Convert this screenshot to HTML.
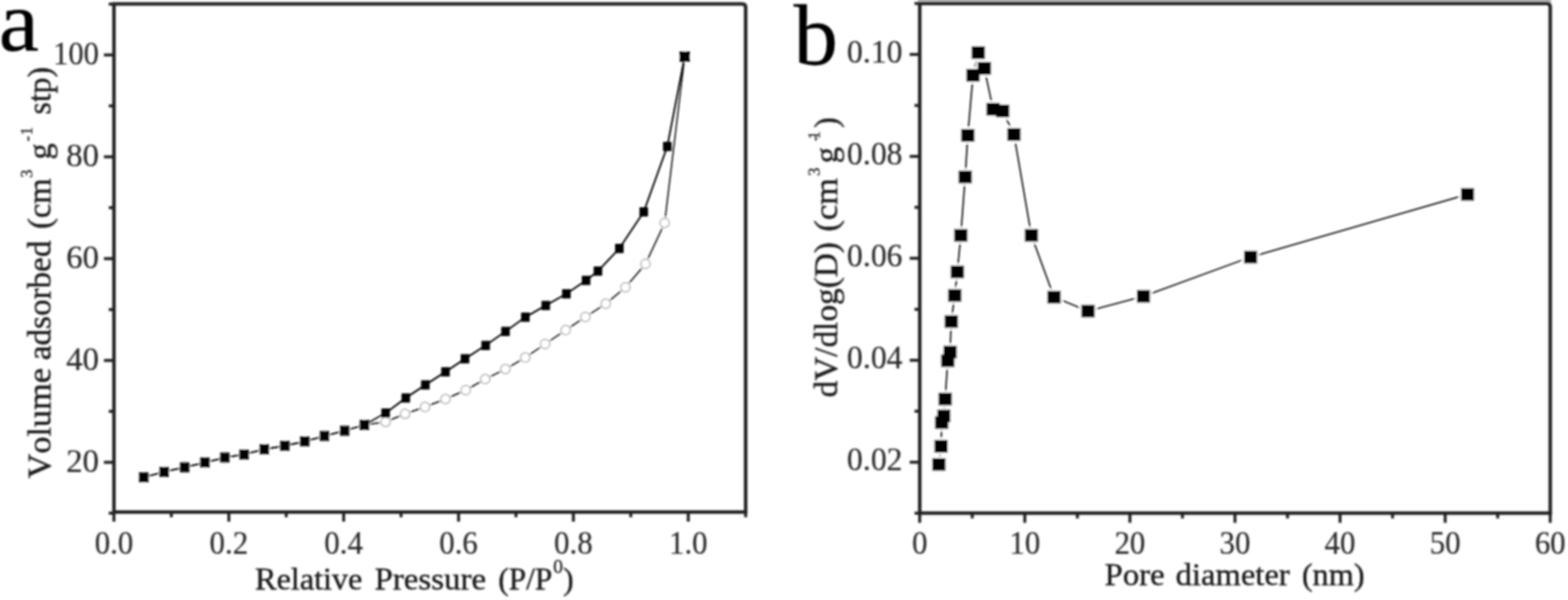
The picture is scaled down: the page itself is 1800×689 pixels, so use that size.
<!DOCTYPE html>
<html lang="en"><head><meta charset="utf-8"><title>Figure</title>
<style>
html,body{margin:0;padding:0;background:#fff;}
body{width:1800px;height:689px;overflow:hidden;}
svg{display:block;font-family:"Liberation Serif", serif;fill:#2a2a2a;font-kerning:none;}
</style></head><body>
<svg width="1800" height="689" viewBox="0 0 1800 689">
<defs><filter id="bl" x="-2%" y="-2%" width="104%" height="104%"><feGaussianBlur stdDeviation="0.8"/></filter></defs>
<rect width="1800" height="689" fill="#fff"/>
<g filter="url(#bl)">
<path d="M130.8,4.6 L852.0,4.6 Q856.0,4.6 856.0,8.6 L856.0,588.0 L130.8,588.0 Z" fill="none" stroke="#202020" stroke-width="4.0" stroke-linejoin="miter"/>
<line x1="130.8" y1="588.0" x2="130.8" y2="599.0" stroke="#202020" stroke-width="3.4"/>
<text transform="translate(130.8,636.0) scale(0.92,1)" font-size="38.5" text-anchor="middle" stroke="#2a2a2a" stroke-width="0.2" >0.0</text>
<line x1="196.7" y1="588.0" x2="196.7" y2="594.0" stroke="#202020" stroke-width="3.4"/>
<line x1="262.7" y1="588.0" x2="262.7" y2="599.0" stroke="#202020" stroke-width="3.4"/>
<text transform="translate(262.7,636.0) scale(0.92,1)" font-size="38.5" text-anchor="middle" stroke="#2a2a2a" stroke-width="0.2" >0.2</text>
<line x1="328.6" y1="588.0" x2="328.6" y2="594.0" stroke="#202020" stroke-width="3.4"/>
<line x1="394.5" y1="588.0" x2="394.5" y2="599.0" stroke="#202020" stroke-width="3.4"/>
<text transform="translate(394.5,636.0) scale(0.92,1)" font-size="38.5" text-anchor="middle" stroke="#2a2a2a" stroke-width="0.2" >0.4</text>
<line x1="460.4" y1="588.0" x2="460.4" y2="594.0" stroke="#202020" stroke-width="3.4"/>
<line x1="526.4" y1="588.0" x2="526.4" y2="599.0" stroke="#202020" stroke-width="3.4"/>
<text transform="translate(526.4,636.0) scale(0.92,1)" font-size="38.5" text-anchor="middle" stroke="#2a2a2a" stroke-width="0.2" >0.6</text>
<line x1="592.3" y1="588.0" x2="592.3" y2="594.0" stroke="#202020" stroke-width="3.4"/>
<line x1="658.2" y1="588.0" x2="658.2" y2="599.0" stroke="#202020" stroke-width="3.4"/>
<text transform="translate(658.2,636.0) scale(0.92,1)" font-size="38.5" text-anchor="middle" stroke="#2a2a2a" stroke-width="0.2" >0.8</text>
<line x1="724.1" y1="588.0" x2="724.1" y2="594.0" stroke="#202020" stroke-width="3.4"/>
<line x1="790.1" y1="588.0" x2="790.1" y2="599.0" stroke="#202020" stroke-width="3.4"/>
<text transform="translate(790.1,636.0) scale(0.92,1)" font-size="38.5" text-anchor="middle" stroke="#2a2a2a" stroke-width="0.2" >1.0</text>
<line x1="856.0" y1="588.0" x2="856.0" y2="594.0" stroke="#202020" stroke-width="3.4"/>
<line x1="130.8" y1="589.3" x2="124.80000000000001" y2="589.3" stroke="#202020" stroke-width="3.4"/>
<line x1="130.8" y1="530.9" x2="119.30000000000001" y2="530.9" stroke="#202020" stroke-width="3.4"/>
<text transform="translate(113.6,541.8) scale(0.98,1)" font-size="38.5" text-anchor="end" stroke="#2a2a2a" stroke-width="0.2" >20</text>
<line x1="130.8" y1="472.4" x2="124.80000000000001" y2="472.4" stroke="#202020" stroke-width="3.4"/>
<line x1="130.8" y1="413.9" x2="119.30000000000001" y2="413.9" stroke="#202020" stroke-width="3.4"/>
<text transform="translate(113.6,424.8) scale(0.98,1)" font-size="38.5" text-anchor="end" stroke="#2a2a2a" stroke-width="0.2" >40</text>
<line x1="130.8" y1="355.5" x2="124.80000000000001" y2="355.5" stroke="#202020" stroke-width="3.4"/>
<line x1="130.8" y1="297.0" x2="119.30000000000001" y2="297.0" stroke="#202020" stroke-width="3.4"/>
<text transform="translate(113.6,307.9) scale(0.98,1)" font-size="38.5" text-anchor="end" stroke="#2a2a2a" stroke-width="0.2" >60</text>
<line x1="130.8" y1="238.5" x2="124.80000000000001" y2="238.5" stroke="#202020" stroke-width="3.4"/>
<line x1="130.8" y1="180.1" x2="119.30000000000001" y2="180.1" stroke="#202020" stroke-width="3.4"/>
<text transform="translate(113.6,191.0) scale(0.98,1)" font-size="38.5" text-anchor="end" stroke="#2a2a2a" stroke-width="0.2" >80</text>
<line x1="130.8" y1="121.6" x2="124.80000000000001" y2="121.6" stroke="#202020" stroke-width="3.4"/>
<line x1="130.8" y1="63.1" x2="119.30000000000001" y2="63.1" stroke="#202020" stroke-width="3.4"/>
<text transform="translate(113.6,74.0) scale(0.91,1)" font-size="38.5" text-anchor="end" stroke="#2a2a2a" stroke-width="0.2" >100</text>
<line x1="130.8" y1="4.7" x2="124.80000000000001" y2="4.7" stroke="#202020" stroke-width="3.4"/>
<text transform="translate(0,677.3)" font-size="36.2" fill="#1c1c1c" stroke="#1c1c1c" stroke-width="0.45"><tspan x="292.8" y="0" textLength="123.2" lengthAdjust="spacingAndGlyphs">Relative</tspan><tspan> </tspan><tspan x="430.0" y="0" textLength="128.0" lengthAdjust="spacingAndGlyphs">Pressure</tspan><tspan> </tspan><tspan x="572.0" y="0" textLength="62.0" lengthAdjust="spacingAndGlyphs">(P/P</tspan><tspan x="635.0" y="-19.6" font-size="22.5" stroke-width="0.3">0</tspan><tspan x="646.5" y="0">)</tspan></text>
<text transform="translate(57.6,0) rotate(-90)" font-size="37.3" fill="#1c1c1c" stroke="#1c1c1c" stroke-width="0.45"><tspan x="-549.5" y="0" textLength="127.0" lengthAdjust="spacingAndGlyphs">Volume</tspan><tspan> </tspan><tspan x="-413.5" y="0" textLength="137.2" lengthAdjust="spacingAndGlyphs">adsorbed</tspan><tspan> </tspan><tspan x="-263.0" y="0" textLength="58.0" lengthAdjust="spacingAndGlyphs">(cm</tspan><tspan x="-204.3" y="-20.5" font-size="19" stroke-width="0.3">3</tspan><tspan> </tspan><tspan x="-183.3" y="0">g</tspan><tspan x="-162.5" y="-20.5" textLength="16.7" lengthAdjust="spacing" font-size="19" stroke-width="0.3">-1</tspan><tspan> </tspan><tspan x="-131.5" y="0" textLength="54.5" lengthAdjust="spacingAndGlyphs">stp)</tspan></text>
<text transform="translate(-1.5,58.0) scale(1.04,1)" font-size="100" text-anchor="start" stroke="#000" stroke-width="0.3" fill="#000">a</text>
<polyline fill="none" stroke="#000" stroke-width="1.6" points="165.0,548.2 188.4,541.8 212.0,536.6 235.2,531.2 258.1,525.4 280.2,521.8 303.4,515.9 327.0,511.9 349.9,506.9 372.4,500.7 395.7,494.6 418.3,488.0 442.7,474.3 465.8,457.0 488.3,442.0 511.4,427.0 533.8,412.0 557.5,396.7 580.3,380.6 603.1,364.2 626.5,350.8 650.2,337.4 672.8,322.0 686.4,311.3 711.0,285.3 739.0,243.3 766.0,168.2 786.0,65.0"/>
<polyline fill="none" stroke="#000" stroke-width="1.5" points="165.0,548.2 188.4,541.8 212.0,536.6 235.2,531.2 258.1,525.4 280.2,521.8 303.4,515.9 327.0,511.9 349.9,506.9 372.4,500.7 395.7,494.6 418.3,488.0 442.6,484.4 465.0,475.2 487.9,467.3 511.4,458.3 534.6,448.0 557.0,435.3 580.2,423.8 603.0,410.6 625.8,395.0 649.4,379.1 672.0,364.0 695.4,348.8 718.0,330.0 741.0,303.0 763.0,256.0 786.0,65.0"/>
<circle cx="165.0" cy="548.2" r="6.7" fill="#fff"/>
<circle cx="188.4" cy="541.8" r="6.7" fill="#fff"/>
<circle cx="212.0" cy="536.6" r="6.7" fill="#fff"/>
<circle cx="235.2" cy="531.2" r="6.7" fill="#fff"/>
<circle cx="258.1" cy="525.4" r="6.7" fill="#fff"/>
<circle cx="280.2" cy="521.8" r="6.7" fill="#fff"/>
<circle cx="303.4" cy="515.9" r="6.7" fill="#fff"/>
<circle cx="327.0" cy="511.9" r="6.7" fill="#fff"/>
<circle cx="349.9" cy="506.9" r="6.7" fill="#fff"/>
<circle cx="372.4" cy="500.7" r="6.7" fill="#fff"/>
<circle cx="395.7" cy="494.6" r="6.7" fill="#fff"/>
<circle cx="418.3" cy="488.0" r="6.7" fill="#fff"/>
<circle cx="442.6" cy="484.4" r="6.7" fill="#fff"/>
<circle cx="465.0" cy="475.2" r="6.7" fill="#fff"/>
<circle cx="487.9" cy="467.3" r="6.7" fill="#fff"/>
<circle cx="511.4" cy="458.3" r="6.7" fill="#fff"/>
<circle cx="534.6" cy="448.0" r="6.7" fill="#fff"/>
<circle cx="557.0" cy="435.3" r="6.7" fill="#fff"/>
<circle cx="580.2" cy="423.8" r="6.7" fill="#fff"/>
<circle cx="603.0" cy="410.6" r="6.7" fill="#fff"/>
<circle cx="625.8" cy="395.0" r="6.7" fill="#fff"/>
<circle cx="649.4" cy="379.1" r="6.7" fill="#fff"/>
<circle cx="672.0" cy="364.0" r="6.7" fill="#fff"/>
<circle cx="695.4" cy="348.8" r="6.7" fill="#fff"/>
<circle cx="718.0" cy="330.0" r="6.7" fill="#fff"/>
<circle cx="741.0" cy="303.0" r="6.7" fill="#fff"/>
<circle cx="763.0" cy="256.0" r="6.7" fill="#fff"/>
<circle cx="786.0" cy="65.0" r="6.7" fill="#fff"/>
<circle cx="165.0" cy="548.2" r="5.4" fill="#fff" stroke="#9c9c9c" stroke-width="1.2"/>
<circle cx="188.4" cy="541.8" r="5.4" fill="#fff" stroke="#9c9c9c" stroke-width="1.2"/>
<circle cx="212.0" cy="536.6" r="5.4" fill="#fff" stroke="#9c9c9c" stroke-width="1.2"/>
<circle cx="235.2" cy="531.2" r="5.4" fill="#fff" stroke="#9c9c9c" stroke-width="1.2"/>
<circle cx="258.1" cy="525.4" r="5.4" fill="#fff" stroke="#9c9c9c" stroke-width="1.2"/>
<circle cx="280.2" cy="521.8" r="5.4" fill="#fff" stroke="#9c9c9c" stroke-width="1.2"/>
<circle cx="303.4" cy="515.9" r="5.4" fill="#fff" stroke="#9c9c9c" stroke-width="1.2"/>
<circle cx="327.0" cy="511.9" r="5.4" fill="#fff" stroke="#9c9c9c" stroke-width="1.2"/>
<circle cx="349.9" cy="506.9" r="5.4" fill="#fff" stroke="#9c9c9c" stroke-width="1.2"/>
<circle cx="372.4" cy="500.7" r="5.4" fill="#fff" stroke="#9c9c9c" stroke-width="1.2"/>
<circle cx="395.7" cy="494.6" r="5.4" fill="#fff" stroke="#9c9c9c" stroke-width="1.2"/>
<circle cx="418.3" cy="488.0" r="5.4" fill="#fff" stroke="#9c9c9c" stroke-width="1.2"/>
<circle cx="442.6" cy="484.4" r="5.4" fill="#fff" stroke="#9c9c9c" stroke-width="1.2"/>
<circle cx="465.0" cy="475.2" r="5.4" fill="#fff" stroke="#9c9c9c" stroke-width="1.2"/>
<circle cx="487.9" cy="467.3" r="5.4" fill="#fff" stroke="#9c9c9c" stroke-width="1.2"/>
<circle cx="511.4" cy="458.3" r="5.4" fill="#fff" stroke="#9c9c9c" stroke-width="1.2"/>
<circle cx="534.6" cy="448.0" r="5.4" fill="#fff" stroke="#9c9c9c" stroke-width="1.2"/>
<circle cx="557.0" cy="435.3" r="5.4" fill="#fff" stroke="#9c9c9c" stroke-width="1.2"/>
<circle cx="580.2" cy="423.8" r="5.4" fill="#fff" stroke="#9c9c9c" stroke-width="1.2"/>
<circle cx="603.0" cy="410.6" r="5.4" fill="#fff" stroke="#9c9c9c" stroke-width="1.2"/>
<circle cx="625.8" cy="395.0" r="5.4" fill="#fff" stroke="#9c9c9c" stroke-width="1.2"/>
<circle cx="649.4" cy="379.1" r="5.4" fill="#fff" stroke="#9c9c9c" stroke-width="1.2"/>
<circle cx="672.0" cy="364.0" r="5.4" fill="#fff" stroke="#9c9c9c" stroke-width="1.2"/>
<circle cx="695.4" cy="348.8" r="5.4" fill="#fff" stroke="#9c9c9c" stroke-width="1.2"/>
<circle cx="718.0" cy="330.0" r="5.4" fill="#fff" stroke="#9c9c9c" stroke-width="1.2"/>
<circle cx="741.0" cy="303.0" r="5.4" fill="#fff" stroke="#9c9c9c" stroke-width="1.2"/>
<circle cx="763.0" cy="256.0" r="5.4" fill="#fff" stroke="#9c9c9c" stroke-width="1.2"/>
<circle cx="786.0" cy="65.0" r="5.4" fill="#fff" stroke="#9c9c9c" stroke-width="1.2"/>
<polyline fill="none" stroke="#000" stroke-width="1.6" points="442.7,474.3 465.8,457.0 488.3,442.0 511.4,427.0 533.8,412.0 557.5,396.7 580.3,380.6 603.1,364.2 626.5,350.8 650.2,337.4 672.8,322.0 686.4,311.3 711.0,285.3 739.0,243.3 766.0,168.2 786.0,65.0"/>
<rect x="437.8" y="469.0" width="9.8" height="10.6" rx="0" fill="#000"/>
<rect x="460.9" y="451.7" width="9.8" height="10.6" rx="0" fill="#000"/>
<rect x="483.4" y="436.7" width="9.8" height="10.6" rx="0" fill="#000"/>
<rect x="506.5" y="421.7" width="9.8" height="10.6" rx="0" fill="#000"/>
<rect x="528.9" y="406.7" width="9.8" height="10.6" rx="0" fill="#000"/>
<rect x="552.6" y="391.4" width="9.8" height="10.6" rx="0" fill="#000"/>
<rect x="575.4" y="375.3" width="9.8" height="10.6" rx="0" fill="#000"/>
<rect x="598.2" y="358.9" width="9.8" height="10.6" rx="0" fill="#000"/>
<rect x="621.6" y="345.5" width="9.8" height="10.6" rx="0" fill="#000"/>
<rect x="645.3" y="332.1" width="9.8" height="10.6" rx="0" fill="#000"/>
<rect x="667.9" y="316.7" width="9.8" height="10.6" rx="0" fill="#000"/>
<rect x="681.5" y="306.0" width="9.8" height="10.6" rx="0" fill="#000"/>
<rect x="706.1" y="280.0" width="9.8" height="10.6" rx="0" fill="#000"/>
<rect x="734.1" y="238.0" width="9.8" height="10.6" rx="0" fill="#000"/>
<rect x="761.1" y="162.9" width="9.8" height="10.6" rx="0" fill="#000"/>
<rect x="159.5" y="542.3" width="11.0" height="11.8" rx="1.2" fill="#000"/>
<rect x="182.9" y="535.9" width="11.0" height="11.8" rx="1.2" fill="#000"/>
<rect x="206.5" y="530.7" width="11.0" height="11.8" rx="1.2" fill="#000"/>
<rect x="229.7" y="525.3" width="11.0" height="11.8" rx="1.2" fill="#000"/>
<rect x="252.6" y="519.5" width="11.0" height="11.8" rx="1.2" fill="#000"/>
<rect x="274.7" y="515.9" width="11.0" height="11.8" rx="1.2" fill="#000"/>
<rect x="297.9" y="510.0" width="11.0" height="11.8" rx="1.2" fill="#000"/>
<rect x="321.5" y="506.0" width="11.0" height="11.8" rx="1.2" fill="#000"/>
<rect x="344.4" y="501.0" width="11.0" height="11.8" rx="1.2" fill="#000"/>
<rect x="366.9" y="494.8" width="11.0" height="11.8" rx="1.2" fill="#000"/>
<rect x="390.2" y="488.7" width="11.0" height="11.8" rx="1.2" fill="#000"/>
<rect x="412.8" y="482.1" width="11.0" height="11.8" rx="1.2" fill="#000"/>
<rect x="780.0" y="59.0" width="12.0" height="12.0" rx="1.2" fill="#000"/>
<rect x="1053.8" y="-3" width="726.8" height="7.0" fill="#b4b4b4"/>
<path d="M1055.8,4.0 L1775.6,4.0 Q1779.6,4.0 1779.6,8.0 L1779.6,589.3 L1055.8,589.3 Z" fill="none" stroke="#202020" stroke-width="4.0" stroke-linejoin="miter"/>
<line x1="1055.8" y1="589.3" x2="1055.8" y2="600.3" stroke="#202020" stroke-width="3.4"/>
<text transform="translate(1055.8,636.0) scale(0.92,1)" font-size="38.5" text-anchor="middle" stroke="#2a2a2a" stroke-width="0.2" >0</text>
<line x1="1116.1" y1="589.3" x2="1116.1" y2="595.3" stroke="#202020" stroke-width="3.4"/>
<line x1="1176.4" y1="589.3" x2="1176.4" y2="600.3" stroke="#202020" stroke-width="3.4"/>
<text transform="translate(1176.4,636.0) scale(0.92,1)" font-size="38.5" text-anchor="middle" stroke="#2a2a2a" stroke-width="0.2" >10</text>
<line x1="1236.8" y1="589.3" x2="1236.8" y2="595.3" stroke="#202020" stroke-width="3.4"/>
<line x1="1297.1" y1="589.3" x2="1297.1" y2="600.3" stroke="#202020" stroke-width="3.4"/>
<text transform="translate(1297.1,636.0) scale(0.92,1)" font-size="38.5" text-anchor="middle" stroke="#2a2a2a" stroke-width="0.2" >20</text>
<line x1="1357.4" y1="589.3" x2="1357.4" y2="595.3" stroke="#202020" stroke-width="3.4"/>
<line x1="1417.7" y1="589.3" x2="1417.7" y2="600.3" stroke="#202020" stroke-width="3.4"/>
<text transform="translate(1417.7,636.0) scale(0.92,1)" font-size="38.5" text-anchor="middle" stroke="#2a2a2a" stroke-width="0.2" >30</text>
<line x1="1478.0" y1="589.3" x2="1478.0" y2="595.3" stroke="#202020" stroke-width="3.4"/>
<line x1="1538.3" y1="589.3" x2="1538.3" y2="600.3" stroke="#202020" stroke-width="3.4"/>
<text transform="translate(1538.3,636.0) scale(0.92,1)" font-size="38.5" text-anchor="middle" stroke="#2a2a2a" stroke-width="0.2" >40</text>
<line x1="1598.6" y1="589.3" x2="1598.6" y2="595.3" stroke="#202020" stroke-width="3.4"/>
<line x1="1659.0" y1="589.3" x2="1659.0" y2="600.3" stroke="#202020" stroke-width="3.4"/>
<text transform="translate(1659.0,636.0) scale(0.92,1)" font-size="38.5" text-anchor="middle" stroke="#2a2a2a" stroke-width="0.2" >50</text>
<line x1="1719.3" y1="589.3" x2="1719.3" y2="595.3" stroke="#202020" stroke-width="3.4"/>
<line x1="1779.6" y1="589.3" x2="1779.6" y2="600.3" stroke="#202020" stroke-width="3.4"/>
<text transform="translate(1779.6,636.0) scale(0.92,1)" font-size="38.5" text-anchor="middle" stroke="#2a2a2a" stroke-width="0.2" >60</text>
<line x1="1055.8" y1="589.3" x2="1049.8" y2="589.3" stroke="#202020" stroke-width="3.4"/>
<line x1="1055.8" y1="530.8" x2="1044.3" y2="530.8" stroke="#202020" stroke-width="3.4"/>
<text transform="translate(1036.0,540.4) scale(0.945,1)" font-size="38.5" text-anchor="end" stroke="#2a2a2a" stroke-width="0.2" >0.02</text>
<line x1="1055.8" y1="472.2" x2="1049.8" y2="472.2" stroke="#202020" stroke-width="3.4"/>
<line x1="1055.8" y1="413.7" x2="1044.3" y2="413.7" stroke="#202020" stroke-width="3.4"/>
<text transform="translate(1036.0,423.3) scale(0.945,1)" font-size="38.5" text-anchor="end" stroke="#2a2a2a" stroke-width="0.2" >0.04</text>
<line x1="1055.8" y1="355.2" x2="1049.8" y2="355.2" stroke="#202020" stroke-width="3.4"/>
<line x1="1055.8" y1="296.6" x2="1044.3" y2="296.6" stroke="#202020" stroke-width="3.4"/>
<text transform="translate(1036.0,306.2) scale(0.945,1)" font-size="38.5" text-anchor="end" stroke="#2a2a2a" stroke-width="0.2" >0.06</text>
<line x1="1055.8" y1="238.1" x2="1049.8" y2="238.1" stroke="#202020" stroke-width="3.4"/>
<line x1="1055.8" y1="179.6" x2="1044.3" y2="179.6" stroke="#202020" stroke-width="3.4"/>
<text transform="translate(1036.0,189.2) scale(0.945,1)" font-size="38.5" text-anchor="end" stroke="#2a2a2a" stroke-width="0.2" >0.08</text>
<line x1="1055.8" y1="121.1" x2="1049.8" y2="121.1" stroke="#202020" stroke-width="3.4"/>
<line x1="1055.8" y1="62.5" x2="1044.3" y2="62.5" stroke="#202020" stroke-width="3.4"/>
<text transform="translate(1036.0,72.1) scale(0.945,1)" font-size="38.5" text-anchor="end" stroke="#2a2a2a" stroke-width="0.2" >0.10</text>
<line x1="1055.8" y1="4.0" x2="1049.8" y2="4.0" stroke="#202020" stroke-width="3.4"/>
<text transform="translate(0,671.5)" font-size="36.2" fill="#1c1c1c" stroke="#1c1c1c" stroke-width="0.45"><tspan x="1268.0" y="0" textLength="69.0" lengthAdjust="spacingAndGlyphs">Pore</tspan><tspan> </tspan><tspan x="1349.5" y="0" textLength="131.0" lengthAdjust="spacingAndGlyphs">diameter</tspan><tspan> </tspan><tspan x="1494.5" y="0" textLength="72.0" lengthAdjust="spacingAndGlyphs">(nm)</tspan></text>
<text transform="translate(961.2,0) rotate(-90)" font-size="37.3" fill="#1c1c1c" stroke="#1c1c1c" stroke-width="0.45"><tspan x="-456.5" y="0" textLength="178.5" lengthAdjust="spacingAndGlyphs">dV/dlog(D)</tspan><tspan> </tspan><tspan x="-266.0" y="0" textLength="61.5" lengthAdjust="spacingAndGlyphs">(cm</tspan><tspan x="-202.0" y="-20.5" font-size="19" stroke-width="0.3">3</tspan><tspan> </tspan><tspan x="-187.5" y="0">g</tspan><tspan x="-162.0" y="-20.5" textLength="11.5" lengthAdjust="spacing" font-size="19" stroke-width="0.3">-1</tspan><tspan x="-147.0" y="0">)</tspan></text>
<text transform="translate(911.0,74.3) scale(1.03,1)" font-size="99" text-anchor="start" stroke="#000" stroke-width="0.3" fill="#000">b</text>
<polyline fill="none" stroke="#000" stroke-width="1.6" points="1077.8,533.3 1080.3,512.5 1081.0,485.2 1083.5,477.7 1085.0,458.2 1088.0,414.2 1090.7,404.2 1092.0,369.2 1096.0,339.2 1099.0,312.2 1103.0,270.2 1108.0,203.2 1111.0,155.4 1117.0,86.4 1123.0,60.4 1130.0,78.4 1140.0,125.4 1151.0,127.4 1164.0,154.4 1184.0,270.2 1210.0,341.2 1249.0,357.2 1312.6,340.2 1435.6,295.2 1684.6,223.2"/>
<rect x="1068.0" y="523.8" width="19.6" height="19" rx="3" fill="#fff"/>
<rect x="1070.5" y="503.0" width="19.6" height="19" rx="3" fill="#fff"/>
<rect x="1071.2" y="475.7" width="19.6" height="19" rx="3" fill="#fff"/>
<rect x="1073.7" y="468.2" width="19.6" height="19" rx="3" fill="#fff"/>
<rect x="1075.2" y="448.7" width="19.6" height="19" rx="3" fill="#fff"/>
<rect x="1078.2" y="404.7" width="19.6" height="19" rx="3" fill="#fff"/>
<rect x="1080.9" y="394.7" width="19.6" height="19" rx="3" fill="#fff"/>
<rect x="1082.2" y="359.7" width="19.6" height="19" rx="3" fill="#fff"/>
<rect x="1086.2" y="329.7" width="19.6" height="19" rx="3" fill="#fff"/>
<rect x="1089.2" y="302.7" width="19.6" height="19" rx="3" fill="#fff"/>
<rect x="1093.2" y="260.7" width="19.6" height="19" rx="3" fill="#fff"/>
<rect x="1098.2" y="193.7" width="19.6" height="19" rx="3" fill="#fff"/>
<rect x="1101.2" y="145.9" width="19.6" height="19" rx="3" fill="#fff"/>
<rect x="1107.2" y="76.9" width="19.6" height="19" rx="3" fill="#fff"/>
<rect x="1113.2" y="50.9" width="19.6" height="19" rx="3" fill="#fff"/>
<rect x="1120.2" y="68.9" width="19.6" height="19" rx="3" fill="#fff"/>
<rect x="1130.2" y="115.9" width="19.6" height="19" rx="3" fill="#fff"/>
<rect x="1141.2" y="117.9" width="19.6" height="19" rx="3" fill="#fff"/>
<rect x="1154.2" y="144.9" width="19.6" height="19" rx="3" fill="#fff"/>
<rect x="1174.2" y="260.7" width="19.6" height="19" rx="3" fill="#fff"/>
<rect x="1200.2" y="331.7" width="19.6" height="19" rx="3" fill="#fff"/>
<rect x="1239.2" y="347.7" width="19.6" height="19" rx="3" fill="#fff"/>
<rect x="1302.8" y="330.7" width="19.6" height="19" rx="3" fill="#fff"/>
<rect x="1425.8" y="285.7" width="19.6" height="19" rx="3" fill="#fff"/>
<rect x="1674.8" y="213.7" width="19.6" height="19" rx="3" fill="#fff"/>
<rect x="1070.2" y="526.0" width="15.2" height="14.6" rx="0" fill="#000"/>
<rect x="1072.7" y="505.2" width="15.2" height="14.6" rx="0" fill="#000"/>
<rect x="1073.4" y="477.9" width="15.2" height="14.6" rx="0" fill="#000"/>
<rect x="1075.9" y="470.4" width="15.2" height="14.6" rx="0" fill="#000"/>
<rect x="1077.4" y="450.9" width="15.2" height="14.6" rx="0" fill="#000"/>
<rect x="1080.4" y="406.9" width="15.2" height="14.6" rx="0" fill="#000"/>
<rect x="1083.1" y="396.9" width="15.2" height="14.6" rx="0" fill="#000"/>
<rect x="1084.4" y="361.9" width="15.2" height="14.6" rx="0" fill="#000"/>
<rect x="1088.4" y="331.9" width="15.2" height="14.6" rx="0" fill="#000"/>
<rect x="1091.4" y="304.9" width="15.2" height="14.6" rx="0" fill="#000"/>
<rect x="1095.4" y="262.9" width="15.2" height="14.6" rx="0" fill="#000"/>
<rect x="1100.4" y="195.9" width="15.2" height="14.6" rx="0" fill="#000"/>
<rect x="1103.4" y="148.1" width="15.2" height="14.6" rx="0" fill="#000"/>
<rect x="1109.4" y="79.1" width="15.2" height="14.6" rx="0" fill="#000"/>
<rect x="1115.4" y="53.1" width="15.2" height="14.6" rx="0" fill="#000"/>
<rect x="1122.4" y="71.1" width="15.2" height="14.6" rx="0" fill="#000"/>
<rect x="1132.4" y="118.1" width="15.2" height="14.6" rx="0" fill="#000"/>
<rect x="1143.4" y="120.1" width="15.2" height="14.6" rx="0" fill="#000"/>
<rect x="1156.4" y="147.1" width="15.2" height="14.6" rx="0" fill="#000"/>
<rect x="1176.4" y="262.9" width="15.2" height="14.6" rx="0" fill="#000"/>
<rect x="1202.4" y="333.9" width="15.2" height="14.6" rx="0" fill="#000"/>
<rect x="1241.4" y="349.9" width="15.2" height="14.6" rx="0" fill="#000"/>
<rect x="1305.0" y="332.9" width="15.2" height="14.6" rx="0" fill="#000"/>
<rect x="1428.0" y="287.9" width="15.2" height="14.6" rx="0" fill="#000"/>
<rect x="1677.0" y="215.9" width="15.2" height="14.6" rx="0" fill="#000"/>
</g>
</svg>
</body></html>
